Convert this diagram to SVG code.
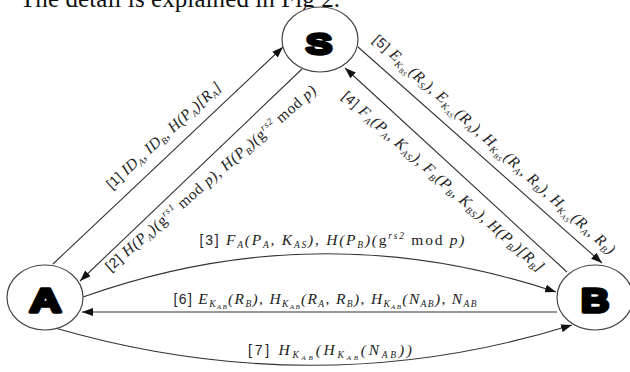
<svg xmlns="http://www.w3.org/2000/svg" width="630" height="372" viewBox="0 0 630 372">
<style>
.node{fill:#fff;stroke:#444;stroke-width:1.2}
.let{font-family:"Liberation Sans",Arial,sans-serif;font-weight:bold;fill:#000;stroke:#000;stroke-width:3.4;stroke-linejoin:round;text-anchor:middle}
.ln{fill:none;stroke:#333;stroke-width:1.1}
.lbl{font-family:"Liberation Serif","Times New Roman",serif;font-style:italic;font-size:15.5px;fill:#222;text-anchor:middle}
.n{font-family:"Liberation Sans",Arial,sans-serif;font-style:normal;font-size:14px}
.up{font-style:normal}
.sb{font-size:9.5px}
.ss{font-size:7px}
.cap{font-family:"Liberation Serif","Times New Roman",serif;font-size:25px;fill:#111}
</style>
<defs>
<marker id="ah" markerUnits="userSpaceOnUse" markerWidth="11" markerHeight="8" refX="11" refY="4" orient="auto">
<path d="M0,0 L11,4 L0,8 z" fill="#111"/>
</marker>
</defs>
<rect width="630" height="372" fill="#fff"/>
<text class="cap" x="20" y="7" textLength="320">The detail is explained in Fig 2.</text>

<g id="connectors">
<path id="c1" class="ln" d="M53,264 L283,47" marker-end="url(#ah)"/>
<path id="c2" class="ln" d="M302,69 L80,281" marker-end="url(#ah)"/>
<path id="c3" class="ln" d="M83,297 Q319,213 556,292" marker-end="url(#ah)"/>
<path id="c4" class="ln" d="M567,272 L345,68" marker-end="url(#ah)"/>
<path id="c5" class="ln" d="M358,47 L602,263" marker-end="url(#ah)"/>
<path id="c6" class="ln" d="M557,312 L82,312" marker-end="url(#ah)"/>
<path id="c7" class="ln" d="M55,328 Q318,404 572,325" marker-end="url(#ah)"/>

<text class="lbl" transform="translate(167,139) rotate(-42.5)" textLength="150"><tspan class="n">[1] </tspan>ID<tspan class="sb" dy="3">A</tspan><tspan dy="-3">, ID</tspan><tspan class="sb" dy="3">B</tspan><tspan dy="-3">, H(P</tspan><tspan class="sb" dy="3">A</tspan><tspan dy="-3">)[R</tspan><tspan class="sb" dy="3">A</tspan><tspan dy="-3">]</tspan></text>

<text class="lbl" transform="translate(214,182) rotate(-41)" textLength="274"><tspan class="n">[2] </tspan>H(P<tspan class="sb" dy="3">A</tspan><tspan dy="-3">)(</tspan><tspan class="up">g</tspan><tspan class="sb" dy="-6">rs1</tspan><tspan class="up" dy="6"> mod </tspan>p), H(P<tspan class="sb" dy="3">B</tspan><tspan dy="-3">)(</tspan><tspan class="up">g</tspan><tspan class="sb" dy="-6">rs2</tspan><tspan class="up" dy="6"> mod </tspan>p)</text>

<text class="lbl" x="332" y="245" textLength="265"><tspan class="n">[3]  </tspan>F<tspan class="sb" dy="3">A</tspan><tspan dy="-3">(P</tspan><tspan class="sb" dy="3">A</tspan><tspan dy="-3">, K</tspan><tspan class="sb" dy="3">AS</tspan><tspan dy="-3">), H(P</tspan><tspan class="sb" dy="3">B</tspan><tspan dy="-3">)(</tspan><tspan class="up">g</tspan><tspan class="sb" dy="-6">rs2</tspan><tspan class="up" dy="6"> mod </tspan>p)</text>

<text class="lbl" transform="translate(440,185) rotate(41.5)" textLength="264"><tspan class="n">[4] </tspan>F<tspan class="sb" dy="3">A</tspan><tspan dy="-3">(P</tspan><tspan class="sb" dy="3">A</tspan><tspan dy="-3">, K</tspan><tspan class="sb" dy="3">AS</tspan><tspan dy="-3">), F</tspan><tspan class="sb" dy="3">B</tspan><tspan dy="-3">(P</tspan><tspan class="sb" dy="3">B</tspan><tspan dy="-3">, K</tspan><tspan class="sb" dy="3">BS</tspan><tspan dy="-3">), H(P</tspan><tspan class="sb" dy="3">B</tspan><tspan dy="-3">)[R</tspan><tspan class="sb" dy="3">B</tspan><tspan dy="-3">]</tspan></text>

<text class="lbl" transform="translate(491,148) rotate(42)" textLength="320"><tspan class="n">[5] </tspan>E<tspan class="sb" dy="3">K</tspan><tspan class="ss" dy="2">BS</tspan><tspan dy="-5">(R</tspan><tspan class="sb" dy="3">S</tspan><tspan dy="-3">), E</tspan><tspan class="sb" dy="3">K</tspan><tspan class="ss" dy="2">AS</tspan><tspan dy="-5">(R</tspan><tspan class="sb" dy="3">A</tspan><tspan dy="-3">), H</tspan><tspan class="sb" dy="3">K</tspan><tspan class="ss" dy="2">BS</tspan><tspan dy="-5">(R</tspan><tspan class="sb" dy="3">A</tspan><tspan dy="-3">, R</tspan><tspan class="sb" dy="3">B</tspan><tspan dy="-3">), H</tspan><tspan class="sb" dy="3">K</tspan><tspan class="ss" dy="2">AS</tspan><tspan dy="-5">(R</tspan><tspan class="sb" dy="3">A</tspan><tspan dy="-3">, R</tspan><tspan class="sb" dy="3">B</tspan><tspan dy="-3">)</tspan></text>

<text class="lbl" x="325" y="304" textLength="303"><tspan class="n">[6] </tspan>E<tspan class="sb" dy="3">K</tspan><tspan class="ss" dy="2">AB</tspan><tspan dy="-5">(R</tspan><tspan class="sb" dy="3">B</tspan><tspan dy="-3">), H</tspan><tspan class="sb" dy="3">K</tspan><tspan class="ss" dy="2">AB</tspan><tspan dy="-5">(R</tspan><tspan class="sb" dy="3">A</tspan><tspan dy="-3">, R</tspan><tspan class="sb" dy="3">B</tspan><tspan dy="-3">), H</tspan><tspan class="sb" dy="3">K</tspan><tspan class="ss" dy="2">AB</tspan><tspan dy="-5">(N</tspan><tspan class="sb" dy="3">AB</tspan><tspan dy="-3">), N</tspan><tspan class="sb" dy="3">AB</tspan></text>

<text class="lbl" x="330" y="355" textLength="164"><tspan class="n">[7] </tspan>H<tspan class="sb" dy="3">K</tspan><tspan class="ss" dy="2">AB</tspan><tspan dy="-5">(H</tspan><tspan class="sb" dy="3">K</tspan><tspan class="ss" dy="2">AB</tspan><tspan dy="-5">(N</tspan><tspan class="sb" dy="3">AB</tspan><tspan dy="-3">))</tspan></text>
</g>

<g id="S">
<ellipse class="node" cx="320" cy="39.5" rx="38" ry="32.5"/>
<text class="let" transform="translate(319,54) scale(1.3,1)" font-size="30">S</text>
</g>
<g id="A">
<ellipse class="node" cx="45" cy="297.5" rx="38" ry="32.5"/>
<text class="let" transform="translate(45.5,312) scale(1.3,1)" font-size="34">A</text>
</g>
<g id="B">
<ellipse class="node" cx="595" cy="297.5" rx="38" ry="32.5"/>
<text class="let" transform="translate(595,312) scale(1.15,1)" font-size="34">B</text>
</g>
</svg>
